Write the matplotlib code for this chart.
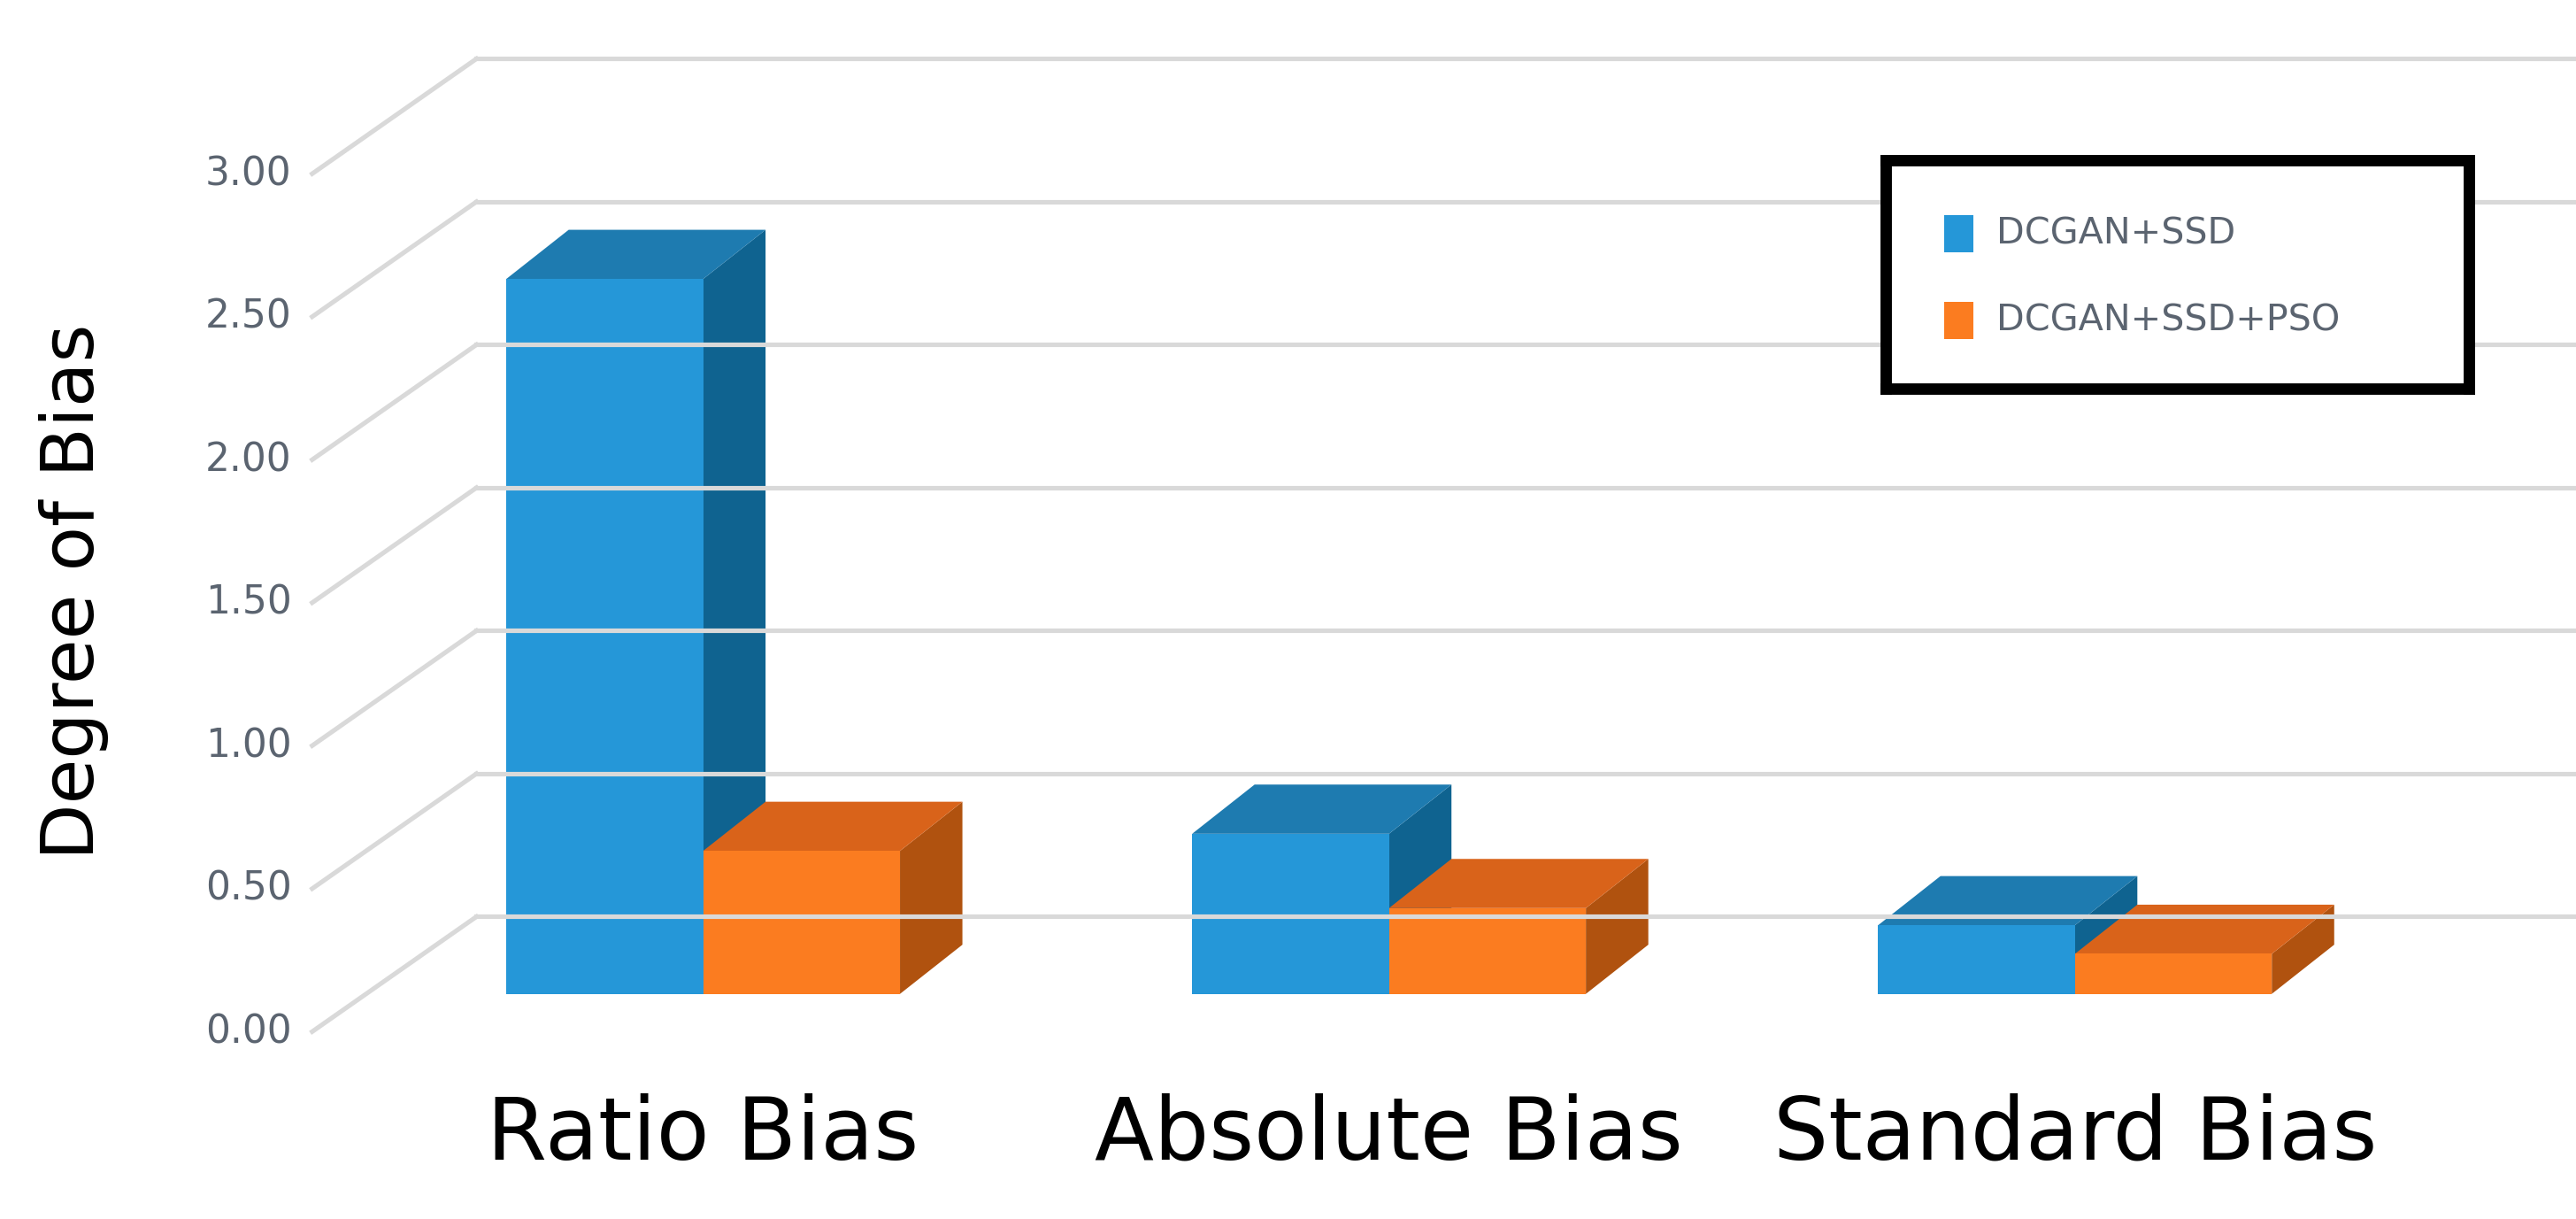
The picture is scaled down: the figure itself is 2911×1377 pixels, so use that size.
import matplotlib
matplotlib.use("Agg")
import matplotlib.pyplot as plt
from matplotlib.patches import Polygon, Rectangle

categories = ["Ratio Bias", "Absolute Bias", "Standard Bias"]
series = ["DCGAN+SSD", "DCGAN+SSD+PSO"]
ssd = [2.50, 0.56, 0.24]
ssd_pso = [0.50, 0.30, 0.14]
yticks = [0.0, 0.5, 1.0, 1.5, 2.0, 2.5, 3.0]

# colours: front, top, side
blue = ("#2597d8", "#1e7bb0", "#0f6390")
orange = ("#fb7c20", "#d9631a", "#b0520f")

FW, FH = 1568, 742
fig = plt.figure(figsize=(FW / 100, FH / 100), dpi=2911 / (FW / 100))
ax = fig.add_axes([0, 0, 1, 1])
ax.set_xlim(-428 / 417.5, (FW - 428) / 417.5)
ax.set_ylim((628 - FH) / 174, 628 / 174)
ax.axis("off")

# 3D box geometry (data units)
DX, DY = 0.2395, 0.402          # front -> back wall
X_FRONT, X_BACK, X_END = -0.570, -0.3305, (FW - 428) / 417.5
grid = "#d9d9d9"
for v in yticks:
    ax.plot([X_FRONT, X_BACK], [v, v + DY], color=grid, lw=2)
    ax.plot([X_BACK, X_END], [v + DY, v + DY], color=grid, lw=2)
    ax.text(X_FRONT - 0.03, v, f"{v:.2f}", ha="right", va="center",
            fontsize=17, color="#5b6470")

# bars
W = 0.287
BASE = 0.132
bdx, bdy = 0.091, 0.172
for i, (a, b) in enumerate(zip(ssd, ssd_pso)):
    for x0, v, col in [(i - W, a, blue), (i, b, orange)]:
        y0, y1 = BASE, BASE + v
        ax.add_patch(Polygon([(x0 + W, y0), (x0 + W + bdx, y0 + bdy),
                              (x0 + W + bdx, y1 + bdy), (x0 + W, y1)],
                             closed=True, fc=col[2], ec="none"))
        ax.add_patch(Polygon([(x0, y1), (x0 + bdx, y1 + bdy),
                              (x0 + W + bdx, y1 + bdy), (x0 + W, y1)],
                             closed=True, fc=col[1], ec="none"))
        ax.add_patch(Rectangle((x0, y0), W, v, fc=col[0], ec="none"))
    ax.text(i, -0.36, categories[i], ha="center", va="center", fontsize=38)

fig.text(45 / FW, 1 - 360 / FH, "Degree of Bias", rotation=90, ha="center",
         va="center", fontsize=32)

# legend
leg = fig.add_axes([1148 / FW, 1 - 237 / FH, 355 / FW, 139 / FH])
leg.set_xlim(0, 1)
leg.set_ylim(0, 1)
leg.set_xticks([])
leg.set_yticks([])
for s in leg.spines.values():
    s.set_linewidth(5)
for name, col, y in [(series[0], blue[0], 0.68), (series[1], orange[0], 0.30)]:
    leg.add_patch(Rectangle((0.10, y - 0.08), 0.05, 0.16, fc=col, ec="none"))
    leg.text(0.19, y, name, va="center", fontsize=16, color="#5b6470")

fig.savefig("out.png")
